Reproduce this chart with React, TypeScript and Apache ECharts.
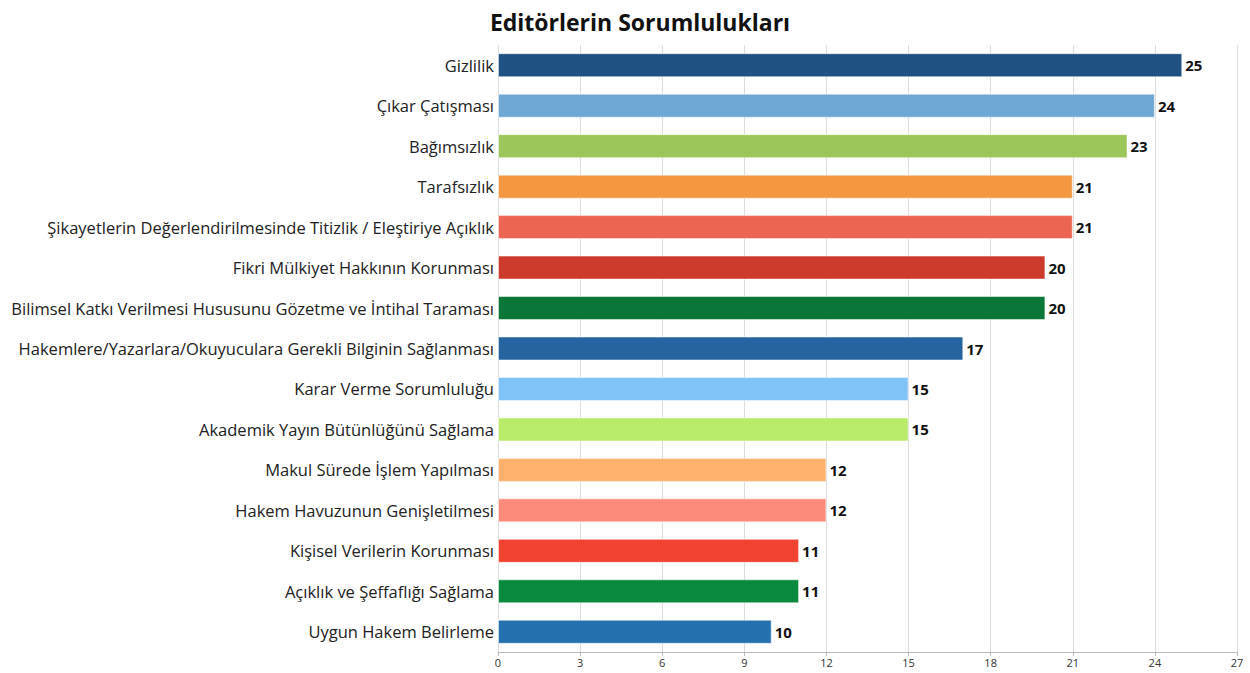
import React, { useEffect, useRef } from "react";
import * as echarts from "echarts";

const categories = [
  "Gizlilik",
  "Çıkar Çatışması",
  "Bağımsızlık",
  "Tarafsızlık",
  "Şikayetlerin Değerlendirilmesinde Titizlik / Eleştiriye Açıklık",
  "Fikri Mülkiyet Hakkının Korunması",
  "Bilimsel Katkı Verilmesi Hususunu Gözetme ve İntihal Taraması",
  "Hakemlere/Yazarlara/Okuyuculara Gerekli Bilginin Sağlanması",
  "Karar Verme Sorumluluğu",
  "Akademik Yayın Bütünlüğünü Sağlama",
  "Makul Sürede İşlem Yapılması",
  "Hakem Havuzunun Genişletilmesi",
  "Kişisel Verilerin Korunması",
  "Açıklık ve Şeffaflığı Sağlama",
  "Uygun Hakem Belirleme",
];
const values = [25, 24, 23, 21, 21, 20, 20, 17, 15, 15, 12, 12, 11, 11, 10];
const colors = [
  "#1f5282", "#6fa7d4", "#9bc75a", "#f39841", "#ec6553", "#cc3a2b", "#0a7637",
  "#2664a0", "#80c4f7", "#b8ec6a", "#fdb16d", "#fd8b7b", "#f24330", "#0a8a3f", "#2571b0",
];
const title = "Editörlerin Sorumlulukları";

export default function App() {
  const ref = useRef<HTMLDivElement>(null);
  useEffect(() => {
    const chart = echarts.init(ref.current!, null, { renderer: "svg" });
    const font = "'Open Sans', 'Noto Sans', sans-serif";
    chart.setOption({
      animation: false,
      textStyle: { fontFamily: font },
      title: {
        text: title,
        left: 635,
        textAlign: "center",
        top: 5,
        textStyle: { fontSize: 23, fontWeight: "bold", color: "#111", fontFamily: font },
      },
      grid: { left: 498, right: 13, top: 45, bottom: 21, containLabel: false },
      xAxis: {
        type: "value",
        min: 0,
        max: 27,
        interval: 3,
        axisLine: { show: true, lineStyle: { color: "#bbb" } },
        axisTick: { show: true, length: 4, lineStyle: { color: "#bbb" } },
        axisLabel: { fontSize: 11, color: "#333", margin: 5 },
        splitLine: { show: true, lineStyle: { color: "#ddd" } },
      },
      yAxis: {
        type: "category",
        data: categories,
        inverse: true,
        axisLine: { show: false },
        axisTick: { show: false },
        axisLabel: { fontSize: 16.5, color: "#222", margin: 4 },
      },
      series: [
        {
          type: "bar",
          data: values.map((v, i) => ({
            value: v,
            itemStyle: { color: colors[i], borderColor: "rgba(255,255,255,0.5)", borderWidth: 1 },
          })),
          barWidth: 24,
          label: {
            show: true,
            position: "right",
            distance: 3,
            fontSize: 15,
            fontWeight: "bold",
            color: "#111",
          },
        },
      ],
    });
    return () => chart.dispose();
  }, []);
  return <div ref={ref} style={{ width: 1250, height: 673, position: "absolute", left: 0, top: 0 }} />;
}
